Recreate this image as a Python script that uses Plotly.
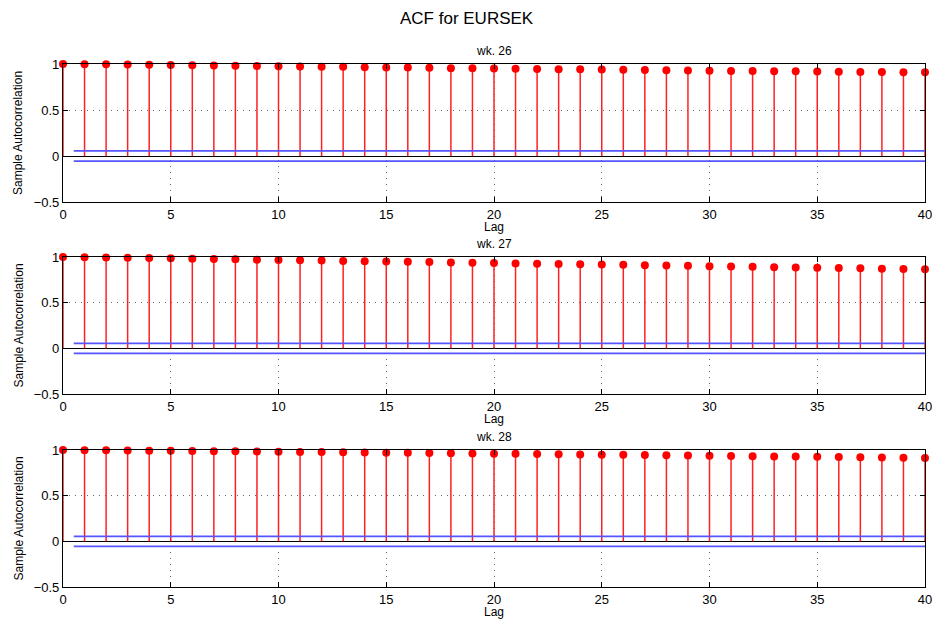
import plotly.graph_objects as go

lags = list(range(41))
titles = ["wk. 26", "wk. 27", "wk. 28"]
acf_wk26 = [1.000, 0.998, 0.996, 0.994, 0.992, 0.989, 0.987, 0.984, 0.982, 0.979,
            0.976, 0.974, 0.971, 0.969, 0.966, 0.963, 0.961, 0.958, 0.955, 0.953,
            0.950, 0.948, 0.946, 0.944, 0.942, 0.940, 0.938, 0.935, 0.933, 0.930,
            0.927, 0.925, 0.923, 0.921, 0.920, 0.918, 0.916, 0.914, 0.912, 0.911, 0.909]
acf_wk27 = [1.000, 0.997, 0.994, 0.991, 0.988, 0.985, 0.981, 0.978, 0.975, 0.971,
            0.968, 0.964, 0.961, 0.957, 0.954, 0.951, 0.947, 0.944, 0.941, 0.937,
            0.934, 0.930, 0.927, 0.924, 0.920, 0.917, 0.914, 0.910, 0.907, 0.903,
            0.900, 0.896, 0.893, 0.889, 0.886, 0.883, 0.879, 0.876, 0.872, 0.869, 0.866]
acf_wk28 = [1.000, 0.998, 0.997, 0.995, 0.993, 0.991, 0.989, 0.987, 0.985, 0.983,
            0.981, 0.979, 0.977, 0.975, 0.973, 0.971, 0.969, 0.967, 0.965, 0.963,
            0.960, 0.958, 0.956, 0.954, 0.951, 0.949, 0.947, 0.945, 0.942, 0.940,
            0.937, 0.935, 0.932, 0.930, 0.928, 0.925, 0.923, 0.921, 0.918, 0.916, 0.913]
series = [acf_wk26, acf_wk27, acf_wk28]
bounds = [0.055, 0.055, 0.055]
bound_x = [0.5, 40]
x_ticks = [0, 5, 10, 15, 20, 25, 30, 35, 40]
y_ticks = [-0.5, 0, 0.5, 1]

W, H = 934, 624
px_left, px_right = 63, 925
panels = [(64, 202), (257, 394), (450, 587)]  # top, bottom pixel

FONT = "Liberation Sans, Arial, Helvetica, sans-serif"
fig = go.Figure()
layout = dict(
    width=W, height=H, margin=dict(l=0, r=0, t=0, b=0, autoexpand=False),
    paper_bgcolor="white", plot_bgcolor="white", showlegend=False,
    font=dict(family=FONT, size=13, color="black"),
)
annotations = [dict(text="ACF for EURSEK", x=0.5, y=1 - 18 / H, xref="paper", yref="paper",
                    showarrow=False, font=dict(size=17), xanchor="center", yanchor="middle")]

for i, (vals, (top, bot)) in enumerate(zip(series, panels)):
    n = i + 1
    xa = "x" if n == 1 else f"x{n}"
    ya = "y" if n == 1 else f"y{n}"
    sx, sy = [], []
    for k, v in zip(lags, vals):
        sx += [k, k, None]
        sy += [0, v, None]
    fig.add_trace(go.Scatter(x=sx, y=sy, mode="lines", line=dict(color="#ff2020", width=1.5),
                             xaxis=xa, yaxis=ya, hoverinfo="skip"))
    b = bounds[i]
    for sgn in (1, -1):
        fig.add_trace(go.Scatter(x=bound_x, y=[sgn * b, sgn * b], mode="lines",
                                 line=dict(color="#5555ff", width=1.8), xaxis=xa, yaxis=ya))
    fig.add_trace(go.Scatter(x=lags, y=vals, mode="markers", cliponaxis=False,
                             marker=dict(color="red", size=8, line=dict(width=0)),
                             xaxis=xa, yaxis=ya))
    dom_y = [1 - bot / H, 1 - top / H]
    axcommon = dict(showline=True, linecolor="black", linewidth=1.2, mirror="ticks",
                    ticks="inside", ticklen=5, tickcolor="black", tickwidth=1,
                    showgrid=True, gridcolor="rgba(0,0,0,0.6)", griddash="1px,5px", gridwidth=1,
                    tickfont=dict(size=13, family=FONT), automargin=False)
    layout["xaxis" if n == 1 else f"xaxis{n}"] = dict(
        domain=[px_left / W, px_right / W], range=[0, 40], tickvals=x_ticks,
        anchor=ya, zeroline=False, **axcommon)
    layout["yaxis" if n == 1 else f"yaxis{n}"] = dict(
        domain=dom_y, range=[-0.5, 1], tickvals=y_ticks,
        ticktext=["\u22120.5", "0", "0.5", "1"],
        anchor=xa, zeroline=True, zerolinecolor="black", zerolinewidth=1.2, **axcommon)
    annotations.append(dict(text=titles[i], x=0.5 * (px_left + px_right) / W, y=1 - (top - 13) / H,
                            xref="paper", yref="paper", showarrow=False, font=dict(size=12),
                            xanchor="center", yanchor="middle"))
    annotations.append(dict(text="Lag", x=0.5 * (px_left + px_right) / W, y=1 - (bot + 25) / H,
                            xref="paper", yref="paper", showarrow=False, font=dict(size=12),
                            xanchor="center", yanchor="middle"))
    annotations.append(dict(text="Sample Autocorrelation", x=18 / W, y=1 - (top + bot) / 2 / H,
                            xref="paper", yref="paper", showarrow=False, font=dict(size=12),
                            textangle=-90, xanchor="center", yanchor="middle"))

layout["annotations"] = annotations
fig.update_layout(**layout)
fig.write_html("out.html")
